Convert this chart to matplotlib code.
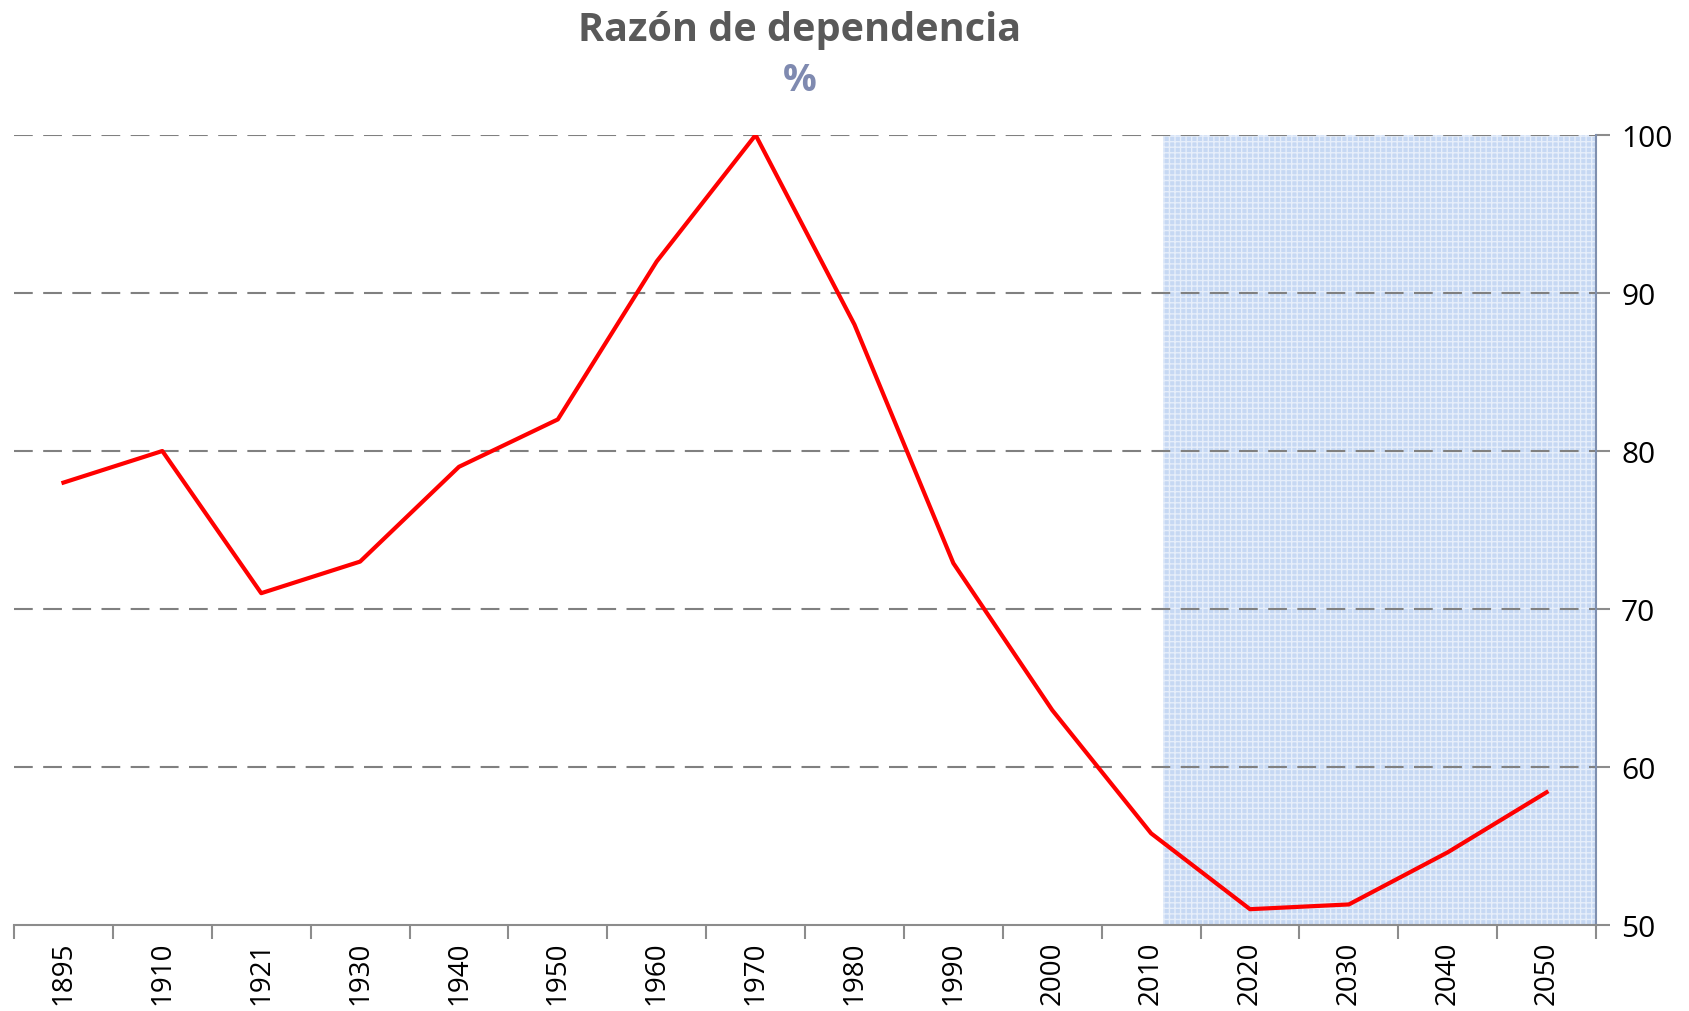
import matplotlib.pyplot as plt
import numpy as np

anios = ['1895', '1910', '1921', '1930', '1940', '1950', '1960', '1970',
         '1980', '1990', '2000', '2010', '2020', '2030', '2040', '2050']
razon = [78.0, 80.0, 71.0, 73.0, 79.0, 82.0, 92.0, 100.0,
         88.0, 72.9, 63.6, 55.8, 51.0, 51.3, 54.6, 58.4]
ticks_y = [50, 60, 70, 80, 90, 100]

plt.rcParams['font.family'] = ['Open Sans', 'DejaVu Sans']
plt.rcParams['hatch.linewidth'] = 1.0

fig = plt.figure(figsize=(16.9, 10.12), dpi=100)
ax = fig.add_axes([0.0083, 0.085, 0.9361, 0.7806])

x = np.arange(len(anios))

# zona de proyección sombreada
ax.axvspan(11.12, len(anios) - 0.5, ymin=0, ymax=1, facecolor='#c6d8f3',
           edgecolor='#e6eefa', hatch='+++', linewidth=0, zorder=1)

# líneas de grilla
for v in ticks_y[1:]:
    ax.axhline(v, color='#808080', linestyle=(0, (9, 5)), linewidth=1.5, zorder=2)

ax.plot(x, razon, color='#ff0000', linewidth=3.0, zorder=3)

ax.set_xlim(-0.5, len(anios) - 0.5)
ax.set_ylim(50, 100)

ax.set_xticks(x)
ax.set_xticklabels(anios, rotation=90, fontsize=20)
ax.set_xticks(np.arange(-0.5, len(anios), 1), minor=True)
ax.tick_params(axis='x', which='major', length=0, pad=11)
ax.tick_params(axis='x', which='minor', length=10, width=1.5, color='#8c8c8c')

ax.yaxis.tick_right()
ax.set_yticks(ticks_y)
ax.tick_params(axis='y', which='major', length=10, width=1.5, color='#8c8c8c',
               labelsize=21.5, pad=8)

for s in ['left', 'top']:
    ax.spines[s].set_visible(False)
ax.spines['bottom'].set_color('#8c8c8c')
ax.spines['bottom'].set_linewidth(1.5)
ax.spines['right'].set_color('#7f8fae')
ax.spines['right'].set_linewidth(1.5)

fig.text(0.4734, 0.970, 'Razón de dependencia', ha='center', va='center',
         fontsize=28.5, fontweight='bold', color='#595959')
fig.text(0.4734, 0.920, '%', ha='center', va='center',
         fontsize=27, fontweight='bold', color='#7f8ab0')

fig.savefig('out.png', dpi=100)
